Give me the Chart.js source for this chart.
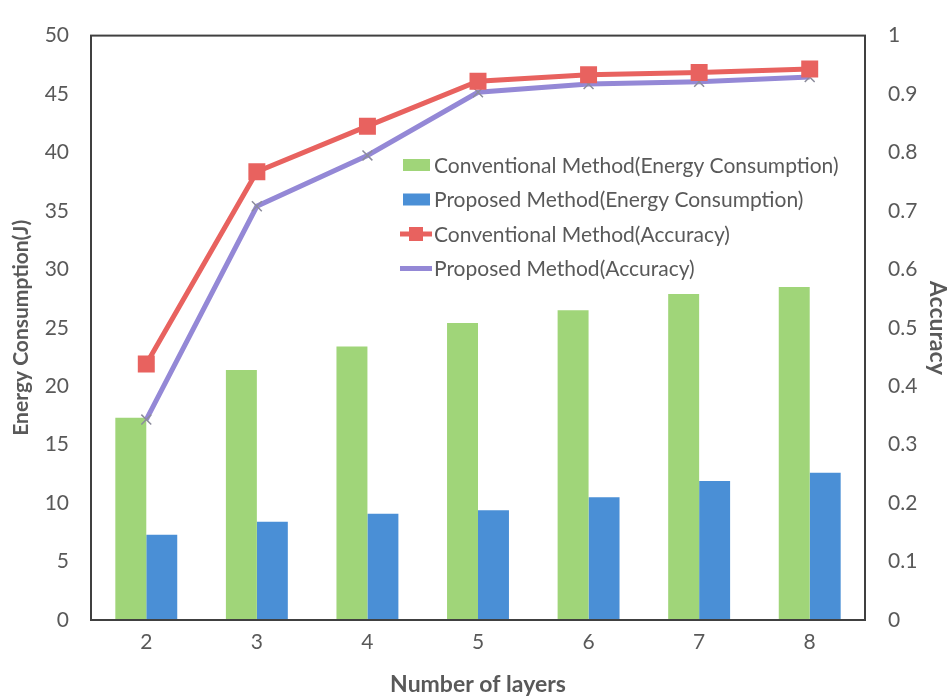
<!DOCTYPE html>
<html>
<head>
<meta charset="utf-8">
<script src="https://cdn.jsdelivr.net/npm/chart.js@4"></script>
<style>
  html, body { margin: 0; padding: 0; background: #fff; }
  #wrap { width: 951px; height: 698px; }
</style>
</head>
<body>
<div id="wrap"><canvas id="chart" width="951" height="698"></canvas></div>
<script>
// values
const layers     = ['2', '3', '4', '5', '6', '7', '8'];
const convEnergy = [17.3, 21.4, 23.4, 25.4, 26.5, 27.9, 28.5];
const propEnergy = [7.3, 8.4, 9.1, 9.4, 10.5, 11.9, 12.6];
const convAcc    = [0.438, 0.767, 0.845, 0.922, 0.933, 0.937, 0.943];
const propAcc    = [0.343, 0.708, 0.795, 0.903, 0.917, 0.921, 0.929];

const FONT  = 'Lato, "Open Sans", sans-serif';
const GREEN = '#a0d579';
const BLUE  = '#4a8fd6';
const RED   = '#e8625f';
const PURP  = '#9488d6';
const GREY  = '#595959';

// plot frame + legend drawn inside the plot area, like the excel original
const framePlugin = {
  id: 'frame',
  afterDatasetsDraw(chart) {
    const { ctx, chartArea: a } = chart;
    ctx.save();
    ctx.strokeStyle = '#404040';
    ctx.lineWidth = 2;
    ctx.strokeRect(a.left, a.top, a.right - a.left, a.bottom - a.top);
    ctx.restore();
  },
  afterDraw(chart) {
    const { ctx } = chart;
    const ds = chart.data.datasets;
    const x0 = 403, y0 = 165, step = 34.5;
    ctx.save();
    ctx.font = '21px ' + FONT;
    ctx.textBaseline = 'middle';
    ds.forEach((d, i) => {
      const y = y0 + i * step;
      if (d.type === 'bar') {
        ctx.fillStyle = d.backgroundColor;
        ctx.fillRect(x0, y - 6, 27, 12);
      } else {
        ctx.strokeStyle = d.borderColor;
        ctx.lineWidth = 5;
        ctx.beginPath(); ctx.moveTo(x0 - 3, y); ctx.lineTo(x0 + 29, y); ctx.stroke();
        if (d.pointStyle === 'rect') {
          ctx.fillStyle = d.borderColor;
          ctx.fillRect(x0 + 6, y - 7, 14, 14);
        }
      }
      ctx.fillStyle = GREY;
      ctx.fillText(d.label, x0 + 31, y + 1);
    });
    ctx.restore();
  }
};

const tickFont  = { family: FONT, size: 21 };
const titleFont = { family: FONT, size: 23, weight: 'bold' };

new Chart(document.getElementById('chart'), {
  type: 'bar',
  data: {
    labels: layers,
    datasets: [
      { type: 'bar', label: 'Conventional Method(Energy Consumption)', data: convEnergy,
        backgroundColor: GREEN, yAxisID: 'y', order: 3 },
      { type: 'bar', label: 'Proposed Method(Energy Consumption)', data: propEnergy,
        backgroundColor: BLUE, yAxisID: 'y', order: 3 },
      { type: 'line', label: 'Conventional Method(Accuracy)', data: convAcc,
        borderColor: RED, backgroundColor: RED, borderWidth: 5, yAxisID: 'y1', order: 1,
        pointStyle: 'rect', pointRadius: 12, pointBorderWidth: 0, pointBackgroundColor: RED,
        tension: 0 },
      { type: 'line', label: 'Proposed Method(Accuracy)', data: propAcc,
        borderColor: PURP, backgroundColor: PURP, borderWidth: 5, yAxisID: 'y1', order: 2,
        pointStyle: 'crossRot', pointRadius: 7, pointBorderWidth: 1.5,
        pointBorderColor: '#8c8c9c', tension: 0 },
    ]
  },
  options: {
    responsive: false,
    animation: false,
    layout: { padding: { top: 27, right: 0, bottom: 0, left: 0 } },
    categoryPercentage: 0.56,
    barPercentage: 1,
    plugins: { legend: { display: false }, tooltip: { enabled: false } },
    scales: {
      x: {
        grid: { display: false, drawTicks: false },
        border: { display: false },
        ticks: { color: GREY, font: tickFont, padding: 10 },
        title: { display: true, text: 'Number of layers', color: GREY, font: titleFont,
                 padding: { top: 2, bottom: 0 } },
        afterFit: s => { s.height = 78; }
      },
      y: {
        position: 'left', min: 0, max: 50,
        grid: { display: false, drawTicks: false },
        border: { display: false },
        ticks: { stepSize: 5, color: GREY, font: tickFont, padding: 22 },
        title: { display: true, text: 'Energy Consumption(J)', color: GREY,
                 font: { family: FONT, size: 21, weight: 'bold' },
                 padding: { top: 9, bottom: 0 } },
        afterFit: s => { s.width = 91; }
      },
      y1: {
        position: 'right', min: 0, max: 1,
        grid: { display: false, drawTicks: false },
        border: { display: false },
        ticks: { stepSize: 0.1, color: GREY, font: tickFont, padding: 23,
                 callback: v => String(+v.toFixed(1)) },
        title: { display: true, text: 'Accuracy', color: GREY, font: titleFont,
                 padding: { top: 0, bottom: 0 } },
        afterFit: s => { s.width = 86; }
      }
    }
  },
  plugins: [framePlugin]
});
</script>
</body>
</html>
